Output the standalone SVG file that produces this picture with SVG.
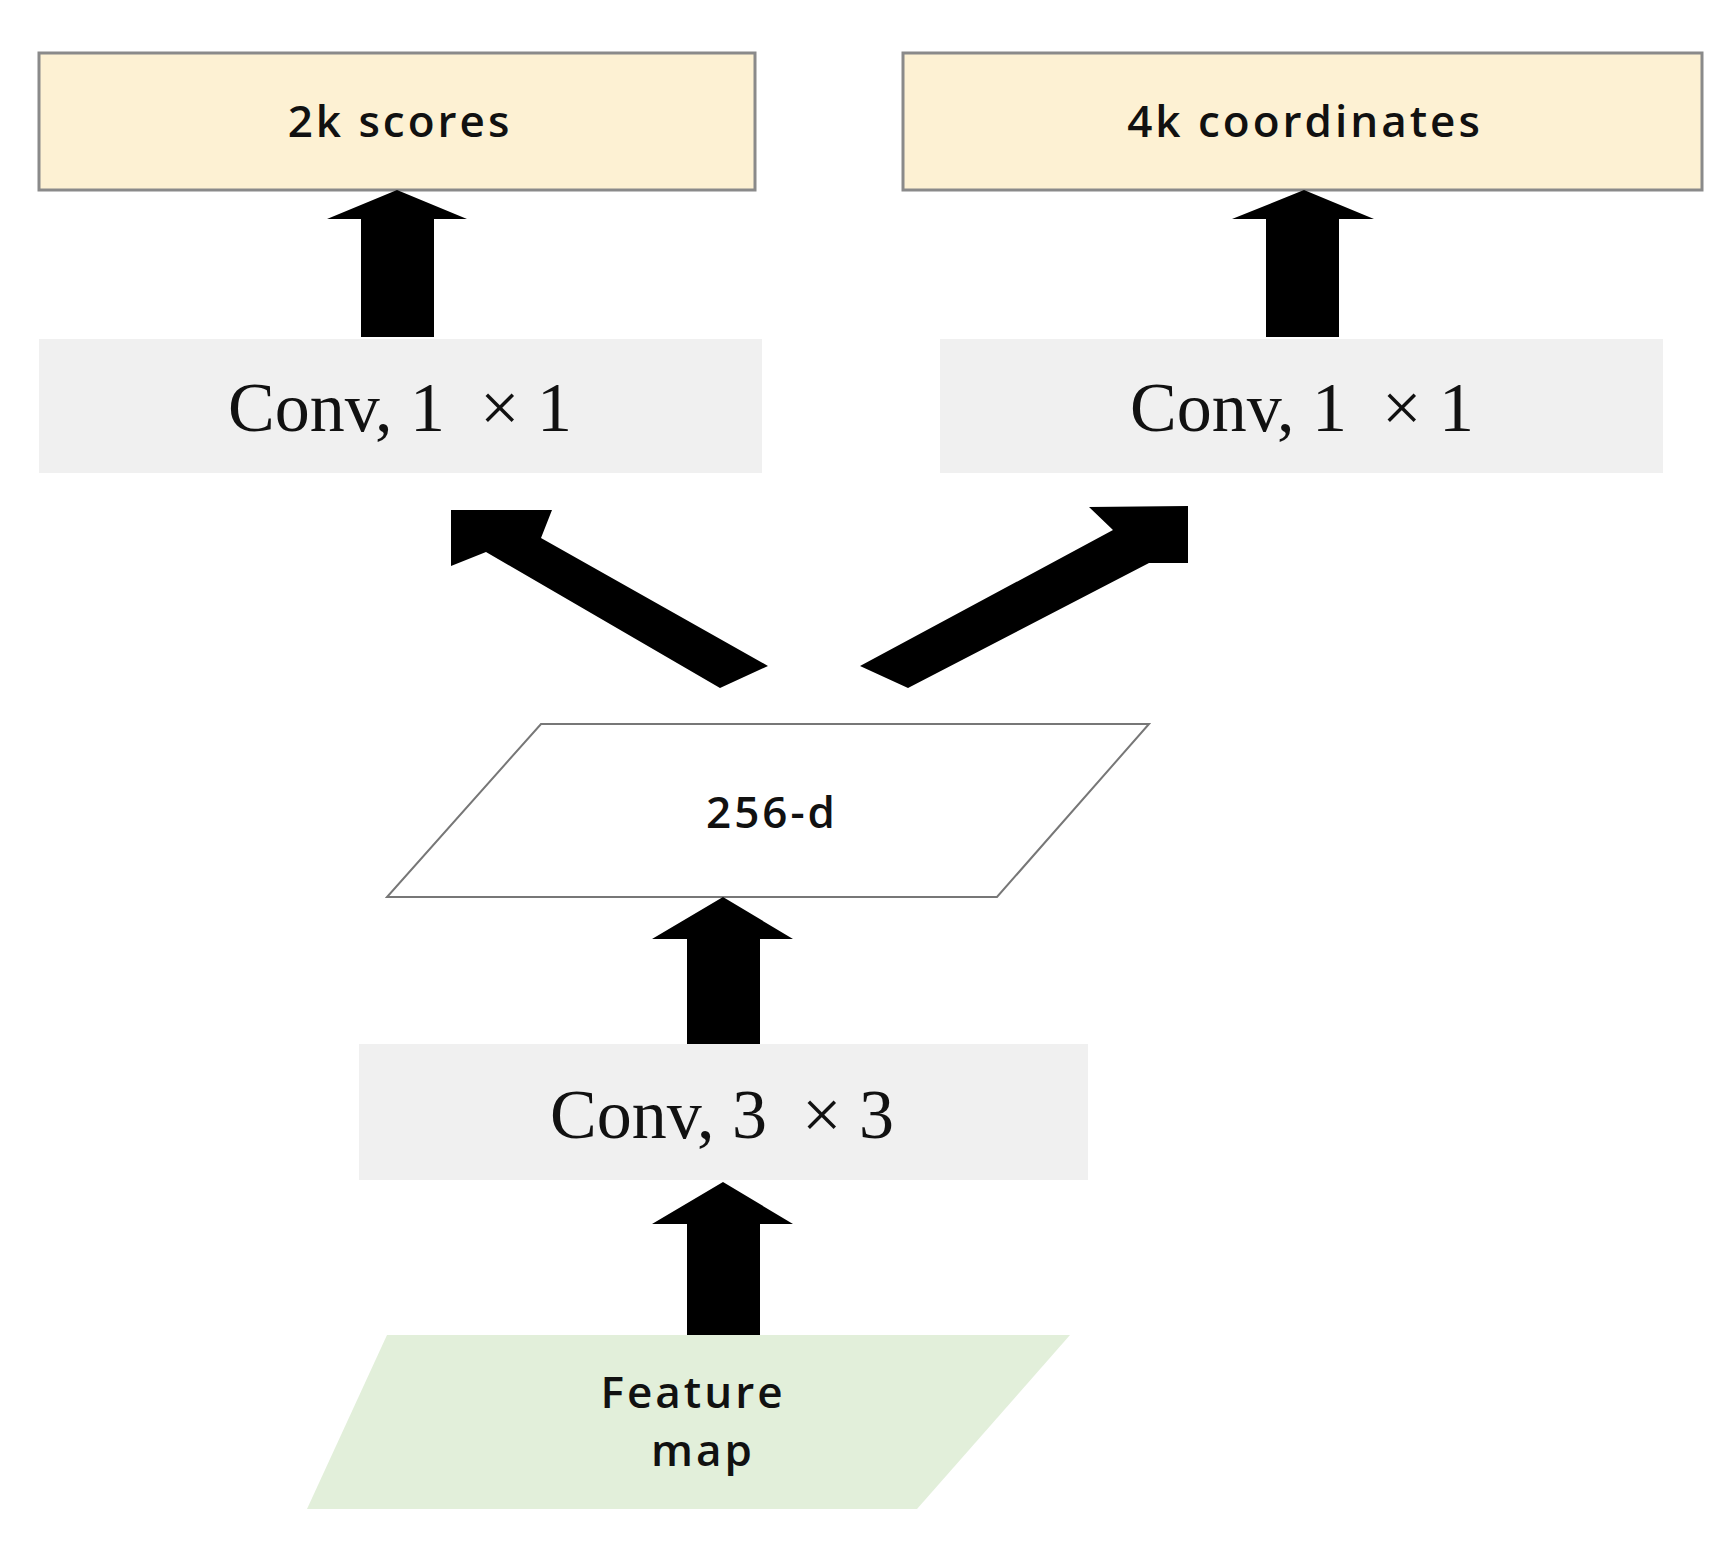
<svg xmlns="http://www.w3.org/2000/svg" width="1724" height="1545" viewBox="0 0 1724 1545">
<style>
.out{fill:#fdf1d3;stroke:#8a8a8a;stroke-width:3}
.conv{fill:#f0f0f0}
.sans{font-family:"Open Sans","DejaVu Sans",sans-serif;font-weight:600;font-size:44px;fill:#111;text-anchor:middle;letter-spacing:3px}
.serif{font-family:"Liberation Serif",serif;font-size:70px;fill:#111;text-anchor:middle}
.arr{fill:#000}
</style>
<rect width="1724" height="1545" fill="#fff"/>
<g id="scores"><rect class="out" x="39" y="53" width="716" height="137"/><text class="sans" x="400" y="137">2k scores</text></g>
<g id="coords"><rect class="out" x="903" y="53" width="799" height="137"/><text class="sans" x="1305" y="137">4k coordinates</text></g>
<g id="conv1a"><rect class="conv" x="39" y="339" width="723" height="134"/><text class="serif" x="400" y="431" xml:space="preserve">Conv, 1  × 1</text></g>
<g id="conv1b"><rect class="conv" x="940" y="339" width="723" height="134"/><text class="serif" x="1302" y="431" xml:space="preserve">Conv, 1  × 1</text></g>
<g id="d256"><polygon points="541,724 1149,724 997,897 387,897" fill="#fff" stroke="#777" stroke-width="2"/><text class="sans" x="772" y="828">256-d</text></g>
<g id="conv3"><rect class="conv" x="359" y="1044" width="729" height="136"/><text class="serif" x="722" y="1138" xml:space="preserve">Conv, 3  × 3</text></g>
<g id="feature"><polygon points="387,1335 1070,1335 917,1509 307,1509" fill="#e2efda"/><text class="sans" x="693" y="1408">Feature</text><text class="sans" x="703" y="1466">map</text></g>
<g id="connectors">
<polygon class="arr" points="361,337 434,337 434,219 467,219 397,190 327,219 361,219"/>
<polygon class="arr" points="1266,337 1339,337 1339,219 1374,219 1304,190 1232,219 1266,219"/>
<polygon class="arr" points="687,1044 760,1044 760,939 793,939 723,897 652,939 687,939"/>
<polygon class="arr" points="687,1335 760,1335 760,1224 793,1224 723,1182 652,1224 687,1224"/>
<polygon class="arr" points="720,688 768,666 541,538 552,510 451,510 451,566 486,552"/>
<polygon class="arr" points="860,666 908,688 1149,563 1188,563 1188,506 1089,507 1113,530"/>
</g>
</svg>
